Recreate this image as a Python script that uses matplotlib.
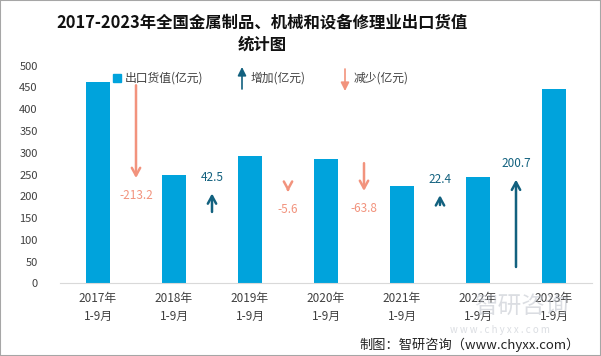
import matplotlib
matplotlib.use("Agg")
import matplotlib.pyplot as plt
from matplotlib.patches import Rectangle, FancyArrowPatch

plt.rcParams['font.family'] = ['Noto Sans CJK SC', 'DejaVu Sans']

# data
years = ["2017年\n1-9月", "2018年\n1-9月", "2019年\n1-9月", "2020年\n1-9月",
         "2021年\n1-9月", "2022年\n1-9月", "2023年\n1-9月"]
export_value = [462.8, 249.6, 292.1, 286.5, 222.7, 245.1, 445.8]
change = [-213.2, 42.5, -5.6, -63.8, 22.4, 200.7]
# where each change arrow starts (y value)
arrow_start = [455, 164, 216, 276, 180, 37.5]

bar_color = "#00A3DC"
up_color = "#12617F"
down_color = "#F2937D"
text_color = "#404040"

fig = plt.figure(figsize=(6.01, 3.56), dpi=100)
ax = fig.add_axes([60 / 601, 1 - 283.3 / 356, 532 / 601, 217.6 / 356])

x = list(range(len(years)))
ax.bar(x, export_value, width=0.32, color=bar_color, zorder=2)

for i, (d, s) in enumerate(zip(change, arrow_start)):
    xi = i + 0.5
    col = up_color if d > 0 else down_color
    ax.annotate("", xy=(xi, s + d), xytext=(xi, s),
                arrowprops=dict(arrowstyle="->,head_length=0.55,head_width=0.3",
                                color=col, lw=1.8, shrinkA=0, shrinkB=0,
                                mutation_scale=10))
    if d > 0:
        ax.text(xi, s + d + 37, f"{d:.1f}", color=col, ha="center", va="center", fontsize=8.5)
    else:
        ax.text(xi, s + d - 40, f"{d:.1f}", color=col, ha="center", va="center", fontsize=8.5)

ax.set_xlim(-0.5, 6.5)
ax.set_ylim(0, 500)
ax.set_yticks(range(0, 501, 50))
ax.set_xticks(x)
ax.set_xticklabels(years, fontsize=8.5, color=text_color, linespacing=1.5)
ax.tick_params(axis="y", length=0, pad=16, labelsize=8, labelcolor=text_color)
ax.tick_params(axis="x", length=0, pad=6)
for side in ["left", "right", "top"]:
    ax.spines[side].set_visible(False)
ax.spines["bottom"].set_color("#D9D9D9")

# title
fig.text(262 / 601, 1 - 23 / 356, "2017-2023年全国金属制品、机械和设备修理业出口货值",
         ha="center", va="center", fontsize=11.8, fontweight="bold", color="#111111")
fig.text(262 / 601, 1 - 45 / 356, "统计图",
         ha="center", va="center", fontsize=11.8, fontweight="bold", color="#111111")

# legend (drawn by hand)
fig.patches.append(Rectangle((113 / 601, 1 - 82 / 356), 8 / 601, 8 / 356,
                             transform=fig.transFigure, color=bar_color))
fig.text(125 / 601, 1 - 78 / 356, "出口货值(亿元)", fontsize=8.5, color=text_color, va="center")
fig.add_artist(FancyArrowPatch(
    (242 / 601, 1 - 89 / 356), (242 / 601, 1 - 67 / 356), transform=fig.transFigure,
    arrowstyle="-|>,head_length=0.5,head_width=0.25", color=up_color, lw=1.2,
    mutation_scale=10, shrinkA=0, shrinkB=0))
fig.text(251 / 601, 1 - 78 / 356, "增加(亿元)", fontsize=8.5, color=text_color, va="center")
fig.add_artist(FancyArrowPatch(
    (345 / 601, 1 - 69 / 356), (345 / 601, 1 - 91 / 356), transform=fig.transFigure,
    arrowstyle="-|>,head_length=0.5,head_width=0.25", color=down_color, lw=1.2,
    mutation_scale=10, shrinkA=0, shrinkB=0))
fig.text(354 / 601, 1 - 78 / 356, "减少(亿元)", fontsize=8.5, color=text_color, va="center")

# watermark
fig.text(521 / 601, 1 - 307 / 356, "智研咨询", fontsize=17, color="#B8BDC6", alpha=0.5,
         ha="center", va="center", zorder=0)
fig.text(500 / 601, 1 - 330 / 356, "w w w . c h y x x . c o m", fontsize=7, color="#B8BDC6",
         alpha=0.5, ha="center", va="center", zorder=0)

# source
fig.text(580 / 601, 1 - 345 / 356, "制图：智研咨询（www.chyxx.com）", fontsize=9.5,
         color="#222222", ha="right", va="center")

fig.patches.append(Rectangle((0, 0), 1, 1, transform=fig.transFigure, fill=False,
                             edgecolor="#A6A6A6", lw=1.5))

fig.savefig("out.png", dpi=100)
